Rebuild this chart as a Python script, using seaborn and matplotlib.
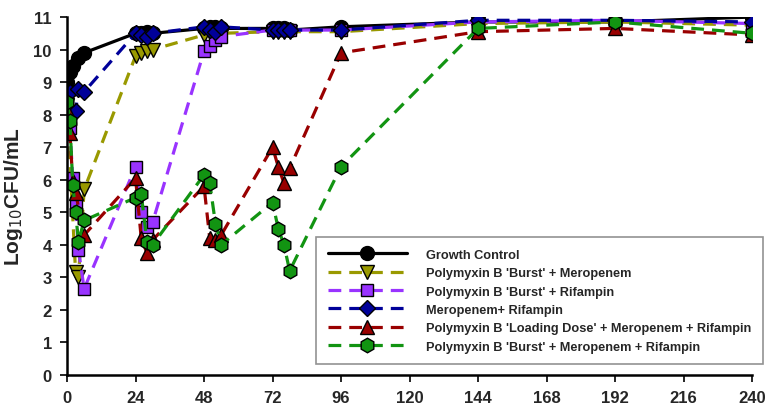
import matplotlib
matplotlib.use("Agg")
import matplotlib.pyplot as plt
import seaborn as sns
import pandas as pd

sns.set_theme(style="white")
plt.rcParams['font.family'] = ['Liberation Sans', 'DejaVu Sans']

later = [24, 26, 28, 30, 48, 50, 52, 54, 72, 74, 76, 78, 96, 144, 192, 240]

gc_t = [0, 1, 2, 4, 6] + later
gc_v = [9.0, 9.3, 9.5, 9.75, 9.9, 10.5, 10.5, 10.55, 10.5, 10.65, 10.7, 10.7, 10.65,
        10.65, 10.65, 10.65, 10.6, 10.7, 10.85, 10.85, 11.0]

pbm_t = [0, 3, 4, 6] + later
pbm_v = [8.3, 3.15, 3.0, 5.7, 9.8, 9.9, 9.95, 10.0, 10.45, 10.5, 10.5, 10.5,
         10.55, 10.55, 10.55, 10.55, 10.55, 10.8, 10.85, 10.75]

pbr_t = [0, 1, 2, 3, 4, 6] + later
pbr_v = [8.3, 7.6, 6.05, 5.3, 3.85, 2.65, 6.4, 5.0, 4.55, 4.7, 9.95, 10.1, 10.3, 10.4,
         10.6, 10.6, 10.6, 10.6, 10.6, 10.85, 10.9, 10.8]

mr_t = [0, 1, 3, 4, 6] + later
mr_v = [8.6, 8.7, 8.1, 8.8, 8.7, 10.5, 10.45, 10.4, 10.5, 10.7, 10.6, 10.55, 10.7,
        10.6, 10.6, 10.6, 10.6, 10.6, 10.9, 10.9, 10.85]

ld_t = [0, 1, 2, 3, 6] + later
ld_v = [8.15, 7.45, 5.95, 5.6, 4.3, 6.05, 4.2, 3.75, 4.15, 5.8, 4.2, 4.15, 4.3,
        7.0, 6.4, 5.9, 6.35, 9.9, 10.55, 10.65, 10.45]

pmr_t = [0, 1, 2, 3, 4, 6] + later
pmr_v = [8.4, 7.8, 5.85, 5.0, 4.1, 4.75, 5.45, 5.55, 4.1, 4.0, 6.15, 5.9, 4.65, 4.0,
         5.3, 4.5, 4.0, 3.2, 6.4, 10.65, 10.85, 10.5]

labels = ["Growth Control",
          "Polymyxin B 'Burst' + Meropenem",
          "Polymyxin B 'Burst' + Rifampin",
          "Meropenem+ Rifampin",
          "Polymyxin B 'Loading Dose' + Meropenem + Rifampin",
          "Polymyxin B 'Burst' + Meropenem + Rifampin"]

series = [(gc_t, gc_v, "#000000", "o", "-", 10),
          (pbm_t, pbm_v, "#999900", "v", (0, (4, 2.5)), 10),
          (pbr_t, pbr_v, "#9933FF", "s", (0, (4, 2.5)), 9),
          (mr_t, mr_v, "#000099", "D", (0, (4, 2.5)), 8.5),
          (ld_t, ld_v, "#990000", "^", (0, (4, 2.5)), 10),
          (pmr_t, pmr_v, "#129412", "h", (0, (4, 2.5)), 10.5)]

fig, ax = plt.subplots(figsize=(7.67, 4.10), dpi=100)
fig.subplots_adjust(left=0.0874, right=0.9805, top=0.956, bottom=0.083)

for (t, v, c, m, ls, ms), lab in zip(series, labels):
    df = pd.DataFrame({"t": t, "v": v})
    sns.lineplot(data=df, x="t", y="v", ax=ax, color=c, marker=m, markersize=ms,
                 markeredgecolor="black", markeredgewidth=1.0, linewidth=2.3,
                 linestyle=ls, label=lab, estimator=None, sort=False)

ax.set_xlim(0, 240)
ax.set_ylim(0, 11)
ax.set_xticks(range(0, 241, 24))
ax.set_yticks(range(0, 12))
ax.set_xlabel("")
ax.set_ylabel("Log$_{10}$CFU/mL", fontsize=15, fontweight="bold", labelpad=6)
for lbl in ax.get_xticklabels() + ax.get_yticklabels():
    lbl.set_fontweight("bold")
    lbl.set_fontsize(12)
ax.tick_params(axis="both", direction="out", length=5, width=1.2, color="black",
               bottom=True, left=True, pad=6)
for s in ["top", "right"]:
    ax.spines[s].set_visible(False)
for s in ["left", "bottom"]:
    ax.spines[s].set_color("black")
    ax.spines[s].set_linewidth(1.8)

leg = ax.legend(loc="lower left", bbox_to_anchor=(0.3635, 0.03),
                prop={"weight": "bold", "size": 9.2}, frameon=True, fancybox=False,
                handlelength=6.2, handletextpad=1.5, labelspacing=0.5,
                borderpad=0.9, borderaxespad=0)
leg.get_frame().set_edgecolor("#777777")
leg.get_frame().set_linewidth(1.2)

fig.savefig("out.png", dpi=100)
